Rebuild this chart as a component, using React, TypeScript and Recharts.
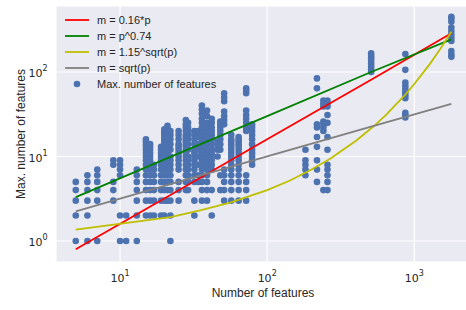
import { ComposedChart, Scatter, XAxis, YAxis, CartesianGrid } from 'recharts';

// number of features p per dataset column, and the max. number of features found for it
const featureCounts = [
  5, 6, 7, 9, 10, 11, 13, 15, 16, 17, 19, 20, 21, 22, 25, 28, 29, 32, 34, 36, 39, 42,
  46, 48, 51, 57, 64, 72, 79, 182, 218, 241, 257, 509, 869, 1786,
];
const maxFeatureCounts = [
  [1, 2, 3, 4, 5],
  [1, 2, 3, 4, 5, 6],
  [1, 3, 4, 5, 6, 7],
  [3, 4, 5, 8, 9],
  [1, 2, 6, 7, 8, 9],
  [1, 2],
  [1, 2, 3, 4, 5, 6, 7],
  [2, 3, 4, 5, 6, 7, 8, 9, 10, 11, 12, 13, 14, 15, 16],
  [2, 3, 4, 5, 6, 7, 8, 9, 10, 11, 12, 13, 14],
  [2, 3, 4, 5, 6, 7, 8],
  [2, 3, 4, 5, 6, 7, 8, 9, 10, 11, 12, 13],
  [2, 3, 4, 5, 6, 7, 8, 9, 10, 11, 12, 13, 14, 15, 16, 17, 18, 19, 20, 21],
  [3, 4, 5, 6, 7, 8, 9, 10, 11, 12, 13, 14, 15, 16, 17, 18, 20, 22, 23],
  [1, 2, 3, 4, 5, 6, 7, 8, 9, 10, 12, 14, 16, 18, 20],
  [3, 4, 5, 7, 8, 9, 10, 11, 12, 13, 14, 16, 18, 20],
  [4, 5, 6, 7, 8, 9, 10, 11, 12, 13, 14, 15, 16, 17, 18, 20, 22, 24, 27],
  [4, 5, 6, 7, 8, 9, 10, 12, 14, 16, 18, 20, 22, 25],
  [2, 3, 5, 6, 7, 8, 9, 10, 11, 12, 14, 16, 18, 20],
  [5, 6, 8, 10, 12, 14, 17, 20],
  [3, 4, 5, 6, 7, 8, 9, 10, 11, 12, 13, 14, 15, 16, 18, 20, 22, 25, 28, 32, 36, 40],
  [3, 4, 5, 6, 7, 8, 9, 10, 11, 12, 14, 16, 18, 20, 22, 25, 30, 35],
  [2, 4, 7, 8, 9, 10, 11, 12, 14, 16, 18, 20, 22, 25, 28],
  [10, 12, 13, 15],
  [4, 6, 12, 14, 16, 18, 20, 22, 24, 26],
  [3, 4, 5, 6, 7, 24, 27, 30, 34, 45, 50, 56],
  [3, 4, 5, 6, 7, 8, 9, 10, 11, 12, 13, 14, 15, 16, 18],
  [3, 4, 5, 6, 7, 8, 9, 10, 11, 12, 13, 14, 15, 16, 17],
  [3, 4, 5, 6, 20, 22, 25, 28, 31, 35, 56, 60, 64],
  [8, 9, 10, 11, 12, 14, 16, 18, 20, 22, 24],
  [6, 7, 8, 9, 12],
  [5, 7, 9, 13, 17, 22, 24, 64, 84],
  [4, 20, 22, 24, 26, 39, 42, 46],
  [4, 5, 6, 7, 8, 12, 17, 25, 31, 39, 42, 46],
  [100, 108, 116, 125, 135, 145, 155, 166],
  [29, 31, 33, 49, 53, 57, 62, 68, 75, 106, 163],
  [151, 161, 177, 233, 254, 278, 305, 336, 394, 430, 451],
];

// fitted curves
const powerP = [5, 22, 100, 509, 1786];
const linearM = [0.8, 3.5, 16, 81, 288];
const powerM = [3.3, 9.9, 30, 100, 243];
const sqrtM = [2.24, 4.7, 10, 22.6, 42];
const expP = [5, 22, 35, 56, 100, 143, 200, 268, 406, 539, 650, 869, 1000, 1274, 1500, 1786];
const expM = [1.36, 1.91, 2.3, 2.85, 4.0, 5.2, 7.0, 9.4, 15.6, 23.4, 31.8, 54, 72, 124, 187, 300];

const xTicks = [10, 100, 1000];
const yTicks = [1, 10, 100];

const scatterData = featureCounts.flatMap((p, i) => maxFeatureCounts[i].map((m) => ({ p, m })));
const toPoints = (ps: number[], ms: number[]) => ps.map((p, i) => ({ p, m: ms[i] }));

const curves = [
  { name: 'm = 0.16*p', color: '#ff0000', data: toPoints(powerP, linearM) },
  { name: 'm = p^0.74', color: '#008000', data: toPoints(powerP, powerM) },
  { name: 'm = 1.15^sqrt(p)', color: '#bfbf00', data: toPoints(expP, expM) },
  { name: 'm = sqrt(p)', color: '#808080', data: toPoints(powerP, sqrtM) },
];

const DOT = '#4c72b0';
const TEXT = '#262626';
const FONT = "'Liberation Sans', Arial, sans-serif";
const TICK_FONT = "'DejaVu Sans', sans-serif";

const PowerTick = ({ x, y, payload, axis }: any) => {
  const exp = Math.round(Math.log10(payload.value));
  const isX = axis === 'x';
  return (
    <text
      x={isX ? x : x - 8.5}
      y={isX ? y + 20 : y + 5.5}
      textAnchor={isX ? 'middle' : 'end'}
      fill={TEXT}
      fontSize={11}
      fontFamily={TICK_FONT}
    >
      <tspan>10</tspan>
      <tspan dy={-6} fontSize={8}>
        {exp}
      </tspan>
    </text>
  );
};

const Dot = ({ cx, cy }: any) => <circle cx={cx} cy={cy} r={3.3} fill={DOT} />;
const NoDot = () => <g />;

export default function App() {
  return (
    <div
      style={{
        position: 'absolute',
        left: 0,
        top: 0,
        width: 466,
        height: 310,
        overflow: 'hidden',
        background: '#fff',
        fontFamily: FONT,
      }}
    >
      <ComposedChart width={470} height={310} margin={{ top: 6, right: 0, bottom: 0, left: 0 }}>
        <CartesianGrid stroke="#ffffff" strokeWidth={1.2} fill="#eaeaf2" fillOpacity={1} />
        <XAxis
          dataKey="p"
          type="number"
          scale="log"
          domain={[3.67, 2391]}
          allowDataOverflow
          ticks={xTicks}
          tick={<PowerTick axis="x" />}
          tickLine={false}
          axisLine={false}
          tickSize={0}
          tickMargin={0}
          height={48}
          label={(props: any) => {
            const vb = props.viewBox ?? { x: 56, y: 262, width: 414, height: 48 };
            return (
              <text x={vb.x + vb.width / 2} y={vb.y + 34.5} textAnchor="middle" fill={TEXT} fontSize={12} fontFamily={FONT}>
                Number of features
              </text>
            );
          }}
        />
        <YAxis
          dataKey="m"
          type="number"
          scale="log"
          domain={[0.564, 604]}
          allowDataOverflow
          ticks={yTicks}
          tick={<PowerTick axis="y" />}
          tickLine={false}
          axisLine={false}
          tickSize={0}
          tickMargin={0}
          width={56}
          label={(props: any) => {
            const vb = props.viewBox ?? { x: 0, y: 6, width: 56, height: 256 };
            const cx = vb.x + 25;
            const cy = vb.y + vb.height / 2;
            return (
              <text
                x={cx}
                y={cy}
                transform={`rotate(-90 ${cx} ${cy})`}
                textAnchor="middle"
                fill={TEXT}
                fontSize={12}
                fontFamily={FONT}
              >
                Max. number of features
              </text>
            );
          }}
        />
        <Scatter data={scatterData} dataKey="m" shape={Dot} isAnimationActive={false} />
        {curves.map((c) => (
          <Scatter
            key={c.name}
            data={c.data}
            dataKey="m"
            shape={NoDot}
            line={{ stroke: c.color, strokeWidth: 1.8 }}
            lineType="joint"
            isAnimationActive={false}
          />
        ))}
      </ComposedChart>
      <div style={{ position: 'absolute', left: 65, top: 12.6, fontSize: 11, color: TEXT, fontFamily: FONT }}>
        {curves.map((c) => (
          <div key={c.name} style={{ display: 'flex', alignItems: 'center', height: 15.8 }}>
            <svg width={24} height={10} style={{ marginRight: 8 }}>
              <line x1={0} y1={5} x2={24} y2={5} stroke={c.color} strokeWidth={1.8} />
            </svg>
            <span>{c.name}</span>
          </div>
        ))}
        <div style={{ display: 'flex', alignItems: 'center', height: 15.8 }}>
          <svg width={24} height={10} style={{ marginRight: 8 }}>
            <circle cx={12} cy={5} r={3.3} fill={DOT} />
          </svg>
          <span>Max. number of features</span>
        </div>
      </div>
    </div>
  );
}
